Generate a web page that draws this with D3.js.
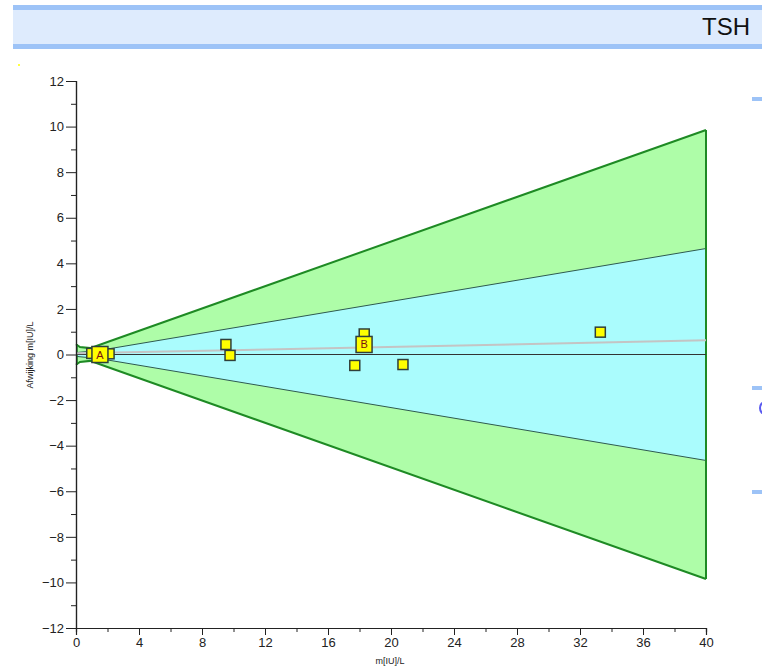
<!DOCTYPE html>
<html lang="nl">
<head>
  <meta charset="UTF-8">
  <title>TSH</title>
  <script src="https://d3js.org/d3.v7.min.js"></script>
  <style>
    body { margin: 0; background: #fff; }
    svg { display: block; font-family: "Liberation Sans", Arial, sans-serif; }
  </style>
</head>
<body>
  <svg width="762" height="667"></svg>

  <script>
    // band limits (afwijking) read along the concentration axis
    const bandX = [0, 0.25, 0.9, 2, 40];
    const outerLimit = [0.45, 0.33, 0.28, 0.55, 9.85];
    const innerLimit = [0.08, 0.10, 0.14, 0.24, 4.65];

    // grey mean deviation line
    const meanX = [0, 40];
    const meanY = [0.05, 0.62];

    // individual results
    const pointX = [1.0, 2.1, 9.52, 9.78, 18.3, 17.7, 20.76, 33.29];
    const pointY = [0.05, 0.03, 0.44, -0.04, 0.9, -0.48, -0.44, 0.98];

    // labelled results
    const labelIds = ["A", "B"];
    const labelX = [1.52, 18.29];
    const labelY = [0.0, 0.44];

    const xTicks = [0, 4, 8, 12, 16, 20, 24, 28, 32, 36, 40];
    const yTicks = [-12, -10, -8, -6, -4, -2, 0, 2, 4, 6, 8, 10, 12];

    const svg = d3.select("svg");

    // header band
    svg.append("rect").attr("x", 13).attr("y", 5).attr("width", 749).attr("height", 44).attr("fill", "#9dc3f7");
    svg.append("rect").attr("x", 13).attr("y", 10).attr("width", 749).attr("height", 34).attr("fill", "#deebfd");
    svg.append("text").attr("x", 750).attr("y", 35).attr("text-anchor", "end")
      .attr("font-size", 24).attr("fill", "#111").text("TSH");

    // decorations on the right edge
    [97, 386, 490].forEach(y => {
      svg.append("rect").attr("x", 752).attr("y", y).attr("width", 10).attr("height", 4).attr("fill", "#9dc3f7");
    });
    svg.append("ellipse").attr("cx", 765).attr("cy", 408).attr("rx", 5).attr("ry", 6)
      .attr("fill", "none").attr("stroke", "#5a5af0").attr("stroke-width", 2);
    svg.append("rect").attr("x", 18).attr("y", 64).attr("width", 2).attr("height", 2).attr("fill", "#ffff40");

    const x = d3.scaleLinear().domain([0, 40]).range([76, 706]);
    const y = d3.scaleLinear().domain([-12, 12]).range([628, 81]);

    const bands = bandX.map((v, i) => ({ x: v, outer: outerLimit[i], inner: innerLimit[i] }));

    const area = key => d3.area()
      .x(d => x(d.x))
      .y0(d => y(-d[key]))
      .y1(d => y(d[key]));

    const edge = (key, sign) => d3.line()
      .x(d => x(d.x))
      .y(d => y(sign * d[key]));

    svg.append("path").datum(bands).attr("d", area("outer")).attr("fill", "#aefda8");
    svg.append("path").datum(bands).attr("d", area("inner")).attr("fill", "#aafcfd");

    [1, -1].forEach(s => {
      svg.append("path").datum(bands).attr("d", edge("inner", s))
        .attr("fill", "none").attr("stroke", "#2e5a50").attr("stroke-width", 1);
      svg.append("path").datum(bands).attr("d", edge("outer", s))
        .attr("fill", "none").attr("stroke", "#1e8a24").attr("stroke-width", 2);
    });
    const last = bands[bands.length - 1];
    svg.append("line")
      .attr("x1", x(last.x)).attr("x2", x(last.x))
      .attr("y1", y(last.outer)).attr("y2", y(-last.outer))
      .attr("stroke", "#1e8a24").attr("stroke-width", 2);
    const first = bands[0];
    svg.append("line")
      .attr("x1", x(first.x) + 1).attr("x2", x(first.x) + 1)
      .attr("y1", y(first.outer)).attr("y2", y(-first.outer))
      .attr("stroke", "#1e8a24").attr("stroke-width", 1.5);

    // zero line
    svg.append("line")
      .attr("x1", x(0)).attr("x2", x(40)).attr("y1", y(0)).attr("y2", y(0))
      .attr("stroke", "#333").attr("stroke-width", 1);

    // mean line
    svg.append("line")
      .attr("x1", x(meanX[0])).attr("x2", x(meanX[1]))
      .attr("y1", y(meanY[0])).attr("y2", y(meanY[1]))
      .attr("stroke", "#c4c4c4").attr("stroke-width", 2);

    // axes
    const yAxis = svg.append("g").attr("transform", `translate(${x(0)},0)`)
      .call(d3.axisLeft(y).tickValues(yTicks).tickFormat(d3.format("d")).tickSize(10).tickPadding(2));
    svg.append("g").attr("transform", `translate(${x(0)},0)`)
      .call(d3.axisLeft(y).tickValues(d3.range(-11, 12, 2)).tickFormat("").tickSize(5));

    const xAxis = svg.append("g").attr("transform", `translate(0,${y(-12)})`)
      .call(d3.axisBottom(x).tickValues(xTicks).tickFormat(d3.format("d")).tickSize(7).tickPadding(3));
    svg.append("g").attr("transform", `translate(0,${y(-12)})`)
      .call(d3.axisBottom(x).tickValues(d3.range(2, 40, 4)).tickFormat("").tickSize(4));

    svg.selectAll(".domain").attr("stroke", "#222").attr("stroke-width", 1.2);
    svg.selectAll(".tick line").attr("stroke", "#222");
    svg.selectAll(".tick text").attr("font-size", 13).attr("fill", "#222")
      .attr("font-family", "'Liberation Sans', Arial, sans-serif");

    svg.append("text").attr("x", 390).attr("y", 664).attr("text-anchor", "middle")
      .attr("font-size", 9).attr("fill", "#222").text("m[IU]/L");
    svg.append("text").attr("transform", "translate(33,355) rotate(-90)").attr("text-anchor", "middle")
      .attr("font-size", 9).attr("fill", "#222").text("Afwijking m[IU]/L");

    // points
    const pts = pointX.map((v, i) => ({ x: v, y: pointY[i] }));
    svg.append("g").selectAll("rect").data(pts).enter().append("rect")
      .attr("x", d => x(d.x) - 5).attr("y", d => y(d.y) - 5)
      .attr("width", 10).attr("height", 10)
      .attr("fill", "#ffff00").attr("stroke", "#2f3f3a").attr("stroke-width", 1.5);

    const labs = labelIds.map((id, i) => ({ id, x: labelX[i], y: labelY[i] }));
    const lab = svg.append("g").selectAll("g").data(labs).enter().append("g")
      .attr("transform", d => `translate(${x(d.x)},${y(d.y)})`);
    lab.append("rect").attr("x", -8).attr("y", -8).attr("width", 16).attr("height", 16)
      .attr("fill", "#ffff00").attr("stroke", "#2f3f3a").attr("stroke-width", 1.5);
    lab.append("text").attr("y", 4).attr("text-anchor", "middle").attr("font-size", 11)
      .attr("fill", "#7a1010").text(d => d.id);
  </script>
</body>
</html>
